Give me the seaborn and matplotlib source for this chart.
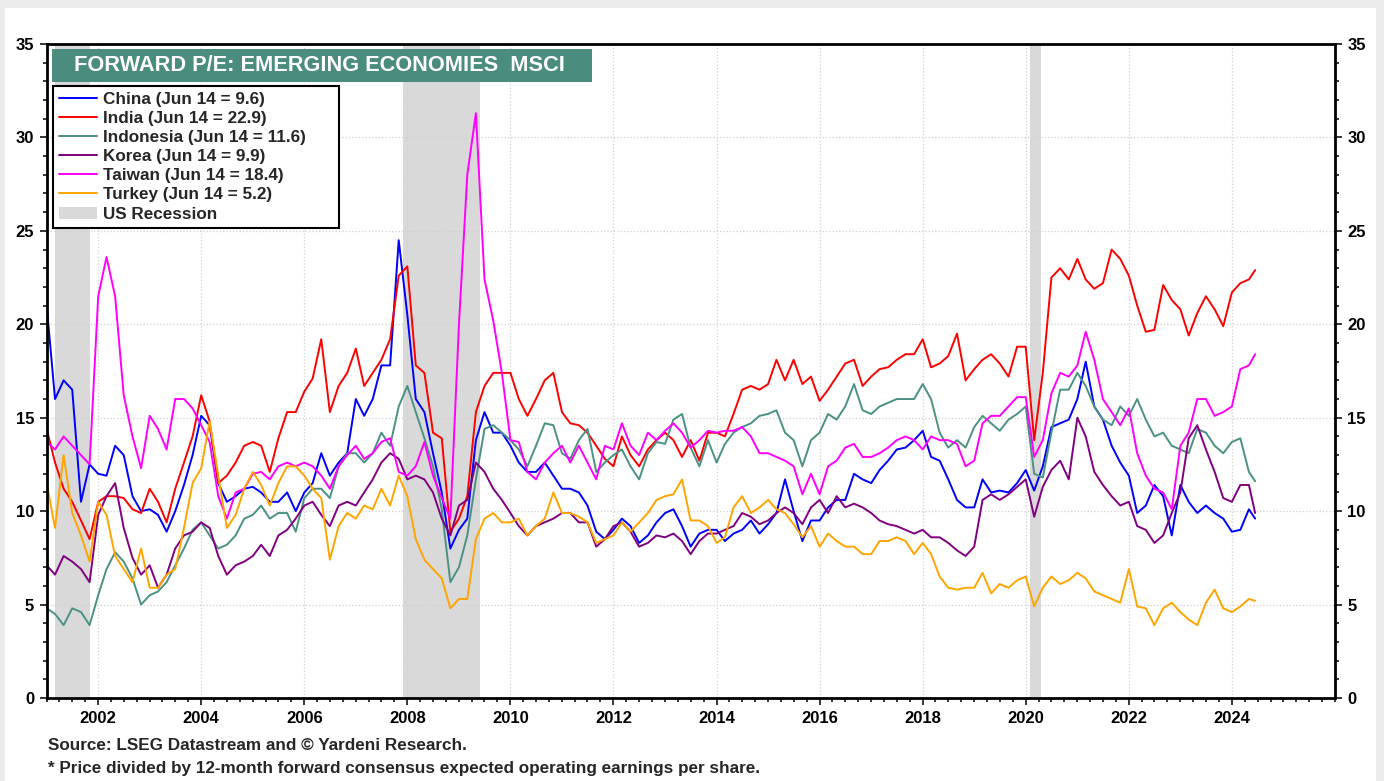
import pandas as pd
import numpy as np
import matplotlib.pyplot as plt
import matplotlib.dates as mdates
import matplotlib.ticker as mticker
from matplotlib.lines import Line2D
from matplotlib.patches import Patch, Rectangle
import seaborn as sns

# --- Setup ---
sns.set_theme(style="ticks")
plt.rcParams["font.family"] = ["Liberation Sans", "DejaVu Sans"]

# --- Data (forward P/E, read every two months + last reading on Jun 14 2024) ---
dates = list(pd.date_range("2001-01-01", "2024-05-01", freq="2MS")) + [pd.Timestamp("2024-06-14")]

china = [
    21.0, 16.0, 17.0, 16.5, 10.5, 12.5,
    12.0, 11.9, 13.5, 13.0, 10.8, 10.0,
    10.1, 9.8, 8.9, 10.0, 11.4, 13.0,
    15.1, 14.6, 11.5, 10.5, 10.8, 11.2,
    11.3, 11.0, 10.5, 10.5, 11.0, 10.0,
    11.0, 11.5, 13.1, 11.9, 12.6, 13.1,
    16.0, 15.1, 16.0, 17.8, 17.8, 24.5,
    20.5, 16.0, 15.3, 13.1, 11.0, 8.0,
    9.0, 9.6, 13.8, 15.3, 14.2, 14.2,
    13.5, 12.6, 12.1, 12.1, 12.6, 11.9,
    11.2, 11.2, 11.0, 10.3, 8.9, 8.5,
    9.0, 9.6, 9.2, 8.3, 8.7, 9.4,
    9.9, 10.1, 9.2, 8.1, 8.8, 9.0,
    9.0, 8.4, 8.8, 9.0, 9.5, 8.8,
    9.3, 9.9, 11.7, 10.0, 8.4, 9.5,
    9.5, 10.2, 10.6, 10.6, 12.0, 11.7,
    11.5, 12.2, 12.7, 13.3, 13.4, 13.8,
    14.3, 12.9, 12.7, 11.7, 10.6, 10.2,
    10.2, 11.7, 11.0, 11.1, 11.0, 11.5,
    12.2, 11.1, 12.4, 14.5, 14.7, 14.9,
    16.0, 18.0, 15.6, 14.9, 13.5, 12.6,
    11.9, 9.9, 10.3, 11.4, 10.8, 8.7,
    11.4, 10.5, 9.9, 10.3, 9.9, 9.6,
    8.9, 9.0, 10.1, 9.6,
]
india = [
    14.4, 12.6, 11.2, 10.5, 9.5, 8.5,
    10.5, 10.8, 10.8, 10.7, 10.1, 9.9,
    11.2, 10.5, 9.4, 11.2, 12.6, 14.0,
    16.2, 14.8, 11.5, 11.9, 12.6, 13.5,
    13.7, 13.5, 12.1, 13.9, 15.3, 15.3,
    16.4, 17.1, 19.2, 15.3, 16.7, 17.4,
    18.7, 16.7, 17.4, 18.1, 19.2, 22.6,
    23.1, 17.8, 17.4, 14.2, 13.9, 8.9,
    9.6, 10.8, 15.3, 16.7, 17.4, 17.4,
    17.4, 16.0, 15.1, 16.0, 17.0, 17.4,
    15.3, 14.7, 14.6, 14.2, 13.5, 12.8,
    12.4, 14.0, 13.0, 12.4, 13.3, 13.8,
    14.2, 13.8, 12.9, 13.8, 12.7, 14.2,
    14.2, 14.0, 15.2, 16.5, 16.7, 16.5,
    16.8, 18.1, 17.0, 18.1, 16.8, 17.2,
    15.9, 16.5, 17.2, 17.9, 18.1, 16.7,
    17.2, 17.6, 17.7, 18.1, 18.4, 18.4,
    19.2, 17.7, 17.9, 18.3, 19.5, 17.0,
    17.6, 18.1, 18.4, 17.9, 17.2, 18.8,
    18.8, 13.8, 17.4, 22.5, 23.0, 22.4,
    23.5, 22.4, 21.9, 22.2, 24.0, 23.5,
    22.6, 21.0, 19.6, 19.7, 22.1, 21.3,
    20.8, 19.4, 20.6, 21.5, 20.8, 19.9,
    21.7, 22.2, 22.4, 22.9,
]
indonesia = [
    4.8, 4.5, 3.9, 4.8, 4.6, 3.9,
    5.5, 6.9, 7.8, 7.3, 6.4, 5.0,
    5.5, 5.7, 6.2, 7.1, 8.0, 9.0,
    9.4, 8.7, 8.0, 8.2, 8.7, 9.6,
    9.8, 10.3, 9.6, 9.9, 9.9, 8.9,
    10.7, 11.2, 11.2, 10.7, 12.4, 13.1,
    13.1, 12.6, 13.1, 14.2, 13.5, 15.6,
    16.7, 15.3, 13.9, 12.4, 10.1, 6.2,
    7.0, 8.7, 11.7, 14.4, 14.6, 14.2,
    13.8, 13.3, 12.4, 13.5, 14.7, 14.6,
    13.1, 12.8, 13.8, 14.4, 12.1, 12.6,
    13.0, 13.3, 12.4, 11.7, 13.1, 13.7,
    13.6, 14.9, 15.2, 13.4, 12.4, 13.8,
    12.6, 13.6, 14.2, 14.5, 14.7, 15.1,
    15.2, 15.4, 14.2, 13.8, 12.4, 13.8,
    14.2, 15.2, 14.9, 15.6, 16.8, 15.4,
    15.2, 15.6, 15.8, 16.0, 16.0, 16.0,
    16.8, 16.0, 14.2, 13.4, 13.8, 13.4,
    14.5, 15.1, 14.7, 14.3, 14.9, 15.2,
    15.6, 12.0, 11.8, 14.2, 16.5, 16.5,
    17.4, 16.7, 15.6, 14.9, 14.6, 15.6,
    15.1, 16.0, 14.9, 14.0, 14.2, 13.5,
    13.3, 13.1, 14.4, 14.2, 13.5, 13.1,
    13.7, 13.9, 12.1, 11.6,
]
korea = [
    7.1, 6.6, 7.6, 7.3, 6.9, 6.2,
    9.8, 10.8, 11.5, 9.1, 7.5, 6.6,
    7.1, 5.9, 6.6, 8.0, 8.7, 8.9,
    9.4, 9.1, 7.6, 6.6, 7.1, 7.3,
    7.6, 8.2, 7.6, 8.7, 9.0, 9.6,
    10.3, 10.5, 9.8, 9.2, 10.3, 10.5,
    10.3, 11.0, 11.7, 12.6, 13.1, 12.8,
    11.7, 11.9, 11.7, 11.0, 9.6, 8.7,
    10.3, 10.6, 12.6, 12.1, 11.2, 10.6,
    9.9, 9.2, 8.7, 9.2, 9.4, 9.6,
    9.9, 9.9, 9.4, 9.4, 8.1, 8.5,
    9.2, 9.4, 8.9, 8.1, 8.3, 8.7,
    8.6, 8.8, 8.4, 7.7, 8.4, 8.8,
    8.8, 9.0, 9.2, 9.9, 9.7, 9.3,
    9.5, 9.9, 10.2, 9.9, 9.3, 10.2,
    10.6, 9.9, 10.8, 10.2, 10.4, 10.2,
    9.9, 9.5, 9.3, 9.2, 9.0, 8.8,
    9.0, 8.6, 8.6, 8.3, 7.9, 7.6,
    8.1, 10.6, 10.9, 10.6, 10.9, 11.3,
    11.7, 9.7, 11.3, 12.2, 12.7, 11.7,
    15.0, 14.0, 12.1, 11.4, 10.8, 10.3,
    10.5, 9.2, 9.0, 8.3, 8.7, 9.9,
    11.0, 13.9, 14.6, 13.3, 12.1, 10.7,
    10.5, 11.4, 11.4, 9.9,
]
taiwan = [
    13.7, 13.3, 14.0, 13.5, 13.0, 12.5,
    21.5, 23.6, 21.5, 16.2, 14.0, 12.3,
    15.1, 14.4, 13.3, 16.0, 16.0, 15.5,
    14.6, 13.7, 10.8, 9.6, 11.0, 11.2,
    12.0, 12.1, 11.7, 12.4, 12.6, 12.4,
    12.6, 12.4, 11.9, 11.2, 12.4, 13.0,
    13.5, 12.8, 13.1, 13.7, 13.9, 12.1,
    11.9, 12.4, 13.7, 11.9, 10.7, 9.6,
    20.0, 28.0, 31.3, 22.4, 20.2, 17.4,
    13.8, 13.7, 12.1, 11.7, 12.6, 13.1,
    13.5, 12.6, 13.5, 12.6, 11.7, 13.5,
    13.3, 14.7, 13.5, 13.0, 14.2, 13.8,
    14.3, 14.7, 14.2, 13.4, 13.8, 14.3,
    14.2, 14.3, 14.3, 14.5, 14.0, 13.1,
    13.1, 12.9, 12.7, 12.4, 10.9, 12.0,
    10.9, 12.4, 12.7, 13.4, 13.6, 12.9,
    12.9, 13.1, 13.4, 13.8, 14.0, 13.8,
    13.3, 14.0, 13.8, 13.8, 13.6, 12.4,
    12.7, 14.7, 15.1, 15.1, 15.6, 16.1,
    16.1, 12.9, 13.8, 16.3, 17.4, 17.2,
    17.8, 19.6, 18.1, 16.0, 15.3, 14.6,
    15.5, 13.1, 11.9, 11.2, 11.0, 10.1,
    13.5, 14.2, 16.0, 16.0, 15.1, 15.3,
    15.6, 17.6, 17.8, 18.4,
]
turkey = [
    11.5, 9.1, 13.0, 9.9, 8.7, 7.3,
    10.5, 9.8, 7.6, 6.9, 6.2, 8.0,
    5.9, 5.9, 6.6, 6.9, 9.1, 11.5,
    12.3, 14.8, 11.9, 9.1, 9.8, 11.2,
    12.1, 11.4, 10.3, 11.5, 12.4, 12.4,
    11.9, 11.2, 10.7, 7.4, 9.2, 9.9,
    9.6, 10.3, 10.1, 11.2, 10.3, 11.9,
    10.8, 8.5, 7.4, 6.9, 6.4, 4.8,
    5.3, 5.3, 8.5, 9.6, 9.9, 9.4,
    9.4, 9.6, 8.7, 9.2, 9.6, 11.0,
    9.9, 9.9, 9.7, 9.4, 8.3, 8.5,
    8.7, 9.4, 8.9, 9.4, 9.9, 10.6,
    10.8, 10.9, 11.7, 9.5, 9.5, 9.2,
    8.3, 8.6, 10.2, 10.8, 9.9, 10.2,
    10.6, 10.1, 9.9, 9.3, 8.6, 9.2,
    8.1, 8.8, 8.4, 8.1, 8.1, 7.7,
    7.7, 8.4, 8.4, 8.6, 8.4, 7.7,
    8.3, 7.7, 6.5, 5.9, 5.8, 5.9,
    5.9, 6.7, 5.6, 6.1, 5.9, 6.3,
    6.5, 4.9, 5.9, 6.5, 6.1, 6.3,
    6.7, 6.4, 5.7, 5.5, 5.3, 5.1,
    6.9, 4.9, 4.8, 3.9, 4.8, 5.1,
    4.6, 4.2, 3.9, 5.1, 5.8, 4.8,
    4.6, 4.9, 5.3, 5.2,
]

countries = ["China", "India", "Indonesia", "Korea", "Taiwan", "Turkey"]
series = [china, india, indonesia, korea, taiwan, turkey]
colors = ["#0000ff", "#ff0000", "#4a9184", "#800080", "#ff00ff", "#ffa500"]

recessions = [("2001-03-01", "2001-11-01"), ("2007-12-01", "2009-06-01"), ("2020-02-01", "2020-04-15")]
year_ticks = list(range(2002, 2025, 2))

df = pd.DataFrame({"date": dates, **dict(zip(countries, series))})
long = df.melt(id_vars="date", var_name="country", value_name="pe")

# --- Figure ---
fig = plt.figure(figsize=(13.84, 7.81), dpi=100)
fig.patch.set_facecolor("#ebebeb")
fig.patches.append(Rectangle((5 / 1384, 0), 1371 / 1384, 1 - 8 / 781, transform=fig.transFigure,
                             facecolor="white", edgecolor="none", zorder=-10))
ax = fig.add_axes([0.03374, 0.10627, 0.93085, 0.83739])
ax.set_facecolor("white")

for start, end in recessions:
    ax.axvspan(pd.Timestamp(start), pd.Timestamp(end), color="#d9d9d9", lw=0, zorder=0.1)

sns.lineplot(data=long, x="date", y="pe", hue="country", hue_order=countries,
             palette=colors, linewidth=1.4, legend=False, ax=ax, zorder=2)

ax.set_xlim(pd.Timestamp("2001-01-01"), pd.Timestamp("2026-01-01"))
ax.set_ylim(0, 35)
ax.set_xlabel("")
ax.set_ylabel("")

ax.set_xticks([pd.Timestamp(f"{y}-01-01") for y in year_ticks])
ax.xaxis.set_major_formatter(mdates.DateFormatter("%Y"))
ax.xaxis.set_minor_locator(mdates.MonthLocator(bymonth=[1, 4, 7, 10]))
ax.yaxis.set_major_locator(mticker.MultipleLocator(5))
ax.yaxis.set_minor_locator(mticker.MultipleLocator(1))

ax.set_axisbelow(True)
ax.grid(True, which="major", color="#d0d0d0", linestyle=":", linewidth=0.9)

ax.tick_params(axis="both", which="both", direction="out", colors="black", width=1.1)
ax.tick_params(axis="both", which="major", length=5, labelsize=12, pad=4)
ax.tick_params(axis="both", which="minor", length=3)
ax.tick_params(axis="y", which="both", left=True, right=True, labelleft=True, labelright=True)
ax.tick_params(axis="x", which="both", bottom=True, top=False)
for lbl in ax.get_xticklabels() + ax.get_yticklabels():
    lbl.set_fontweight("bold")
for tl in ax.yaxis.get_major_ticks():
    tl.label2.set_fontweight("bold")

for side in ["left", "right", "top", "bottom"]:
    ax.spines[side].set_visible(True)
    ax.spines[side].set_color("black")
    ax.spines[side].set_linewidth(2.0)

# --- Title box ---
ax.add_patch(Rectangle((0.0041, 0.9419), 0.4192, 0.0505, transform=ax.transAxes,
                       facecolor="#4a8c7e", edgecolor="none", zorder=5))
ax.text(0.0215, 0.967, "FORWARD P/E: EMERGING ECONOMIES  MSCI", transform=ax.transAxes,
        color="white", fontsize=15.7, fontweight="bold", va="center", ha="left", zorder=6)

# --- Legend ---
handles = [Line2D([0], [0], color=c, lw=1.4) for c in colors]
labels = [f"{c} (Jun 14 = {s[-1]})" for c, s in zip(countries, series)]
handles.append(Patch(facecolor="#d9d9d9", edgecolor="none"))
labels.append("US Recession")
leg_w = (339 - 53) / 1288.3
leg = ax.legend(handles, labels, loc="upper left", bbox_to_anchor=(0.0049, 0.9358 - 0.2, leg_w, 0.2),
                mode="expand", frameon=True, fancybox=False, framealpha=1, edgecolor="black",
                prop={"weight": "bold", "size": 12.3}, handlelength=2.2, handletextpad=0.4,
                labelspacing=0.24, borderpad=0.35, borderaxespad=0)
leg.get_frame().set_linewidth(1.5)
leg.set_zorder(6)

# --- Footnotes ---
fig.text(48 / 1384, 1 - 745 / 781, "Source: LSEG Datastream and \u00a9 Yardeni Research.",
         fontsize=12.3, fontweight="bold", va="center", ha="left")
fig.text(48 / 1384, 1 - 769 / 781,
         "* Price divided by 12-month forward consensus expected operating earnings per share.",
         fontsize=12.3, fontweight="bold", va="center", ha="left")

fig.savefig("out.png", dpi=100)
plt.close(fig)
